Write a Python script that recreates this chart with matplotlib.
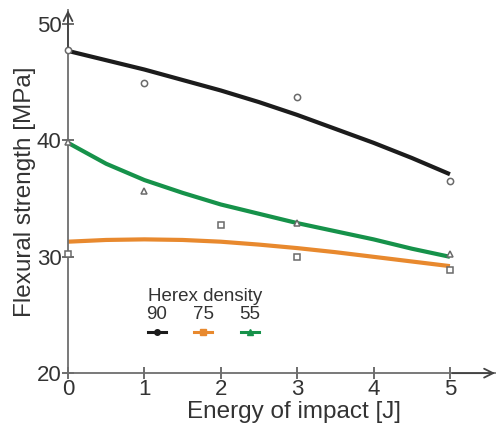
import numpy as np
import matplotlib
matplotlib.use('Agg')
import matplotlib.pyplot as plt

plt.rcParams['font.family'] = ['Liberation Sans', 'DejaVu Sans']

# measured points (energy of impact [J] vs flexural strength [MPa])
energy = [0, 1, 3, 5]
strength_90 = [47.8, 44.9, 43.7, 36.5]
energy_75 = [0, 2, 3, 5]
strength_75 = [30.2, 32.7, 30.0, 28.9]
strength_55 = [39.9, 35.7, 32.9, 30.2]

# trend curves, every 0.5 J
curve_x = [0, 0.5, 1, 1.5, 2, 2.5, 3, 3.5, 4, 4.5, 5]
curve_90 = [47.7, 46.9, 46.1, 45.2, 44.3, 43.3, 42.2, 41.0, 39.8, 38.5, 37.1]
curve_75 = [31.3, 31.45, 31.5, 31.45, 31.3, 31.05, 30.75, 30.4, 30.0, 29.6, 29.2]
curve_55 = [39.8, 38.0, 36.6, 35.5, 34.5, 33.7, 32.9, 32.2, 31.5, 30.7, 30.0]

series_labels = ["90", "75", "55"]
colors = ["#1c1c1c", "#e8892e", "#16924a"]
markers = ["o", "s", "^"]

x_ticks = [0, 1, 2, 3, 4, 5]
y_ticks = [20, 30, 40, 50]

fig = plt.figure(figsize=(4.98, 4.25), dpi=100)
ax = fig.add_axes([0.1365, 0.122, 0.8575, 0.854])

points = [(energy, strength_90), (energy_75, strength_75), (energy, strength_55)]
curves = [curve_90, curve_75, curve_55]
for (ex, ey), cy, col, mk in zip(points, curves, colors, markers):
    ax.plot(curve_x, cy, color=col, lw=3, solid_capstyle='butt',
            solid_joinstyle='round', zorder=2)
    ax.plot(ex, ey, linestyle='none', marker=mk, ms=4.5, mfc='white', mec='#6a6a6a',
            mew=1.1, zorder=3, clip_on=False)

ax.set_xlim(0, 5.59)
ax.set_ylim(20, 51.2)
ax.set_xticks(x_ticks)
ax.set_yticks(y_ticks)

for s in ['top', 'right']:
    ax.spines[s].set_visible(False)
for s in ['left', 'bottom']:
    ax.spines[s].set_color('#6e6e6e')
    ax.spines[s].set_linewidth(1.3)

ax.tick_params(direction='inout', length=9, width=1.2, color='#555555',
               labelsize=16, labelcolor='#333333', pad=0)

# axis arrows (open heads)
ax.annotate('', xy=(1.0, 0), xytext=(0.9, 0), xycoords='axes fraction',
            arrowprops=dict(arrowstyle='->', color='#444444', lw=1.3,
                            mutation_scale=16, shrinkA=0, shrinkB=0))
ax.annotate('', xy=(0, 1.0), xytext=(0, 0.9), xycoords='axes fraction',
            arrowprops=dict(arrowstyle='->', color='#444444', lw=1.3,
                            mutation_scale=16, shrinkA=0, shrinkB=0))

ax.set_xlabel("Energy of impact [J]", fontsize=17.5, color='#333333')
ax.set_ylabel("Flexural strength [MPa]", fontsize=17.5, color='#333333', labelpad=1)
ax.xaxis.set_label_coords(0.529, -0.078)

# legend: labels above short line samples
ax.text(1.79, 26.6, "Herex density", fontsize=13.5, color='#333333', ha='center', va='center')
for lab, col, mk, lx in zip(series_labels, colors, markers, [1.165, 1.77, 2.38]):
    ax.text(lx, 25.0, lab, fontsize=13.5, color='#333333', ha='center', va='center')
    ax.plot([lx - 0.12, lx + 0.12], [23.5, 23.5], color=col, lw=2.2)
    ax.plot([lx], [23.5], marker=mk, ms=4, mfc=col, mec=col, color=col)

fig.savefig("out.png", dpi=100)
